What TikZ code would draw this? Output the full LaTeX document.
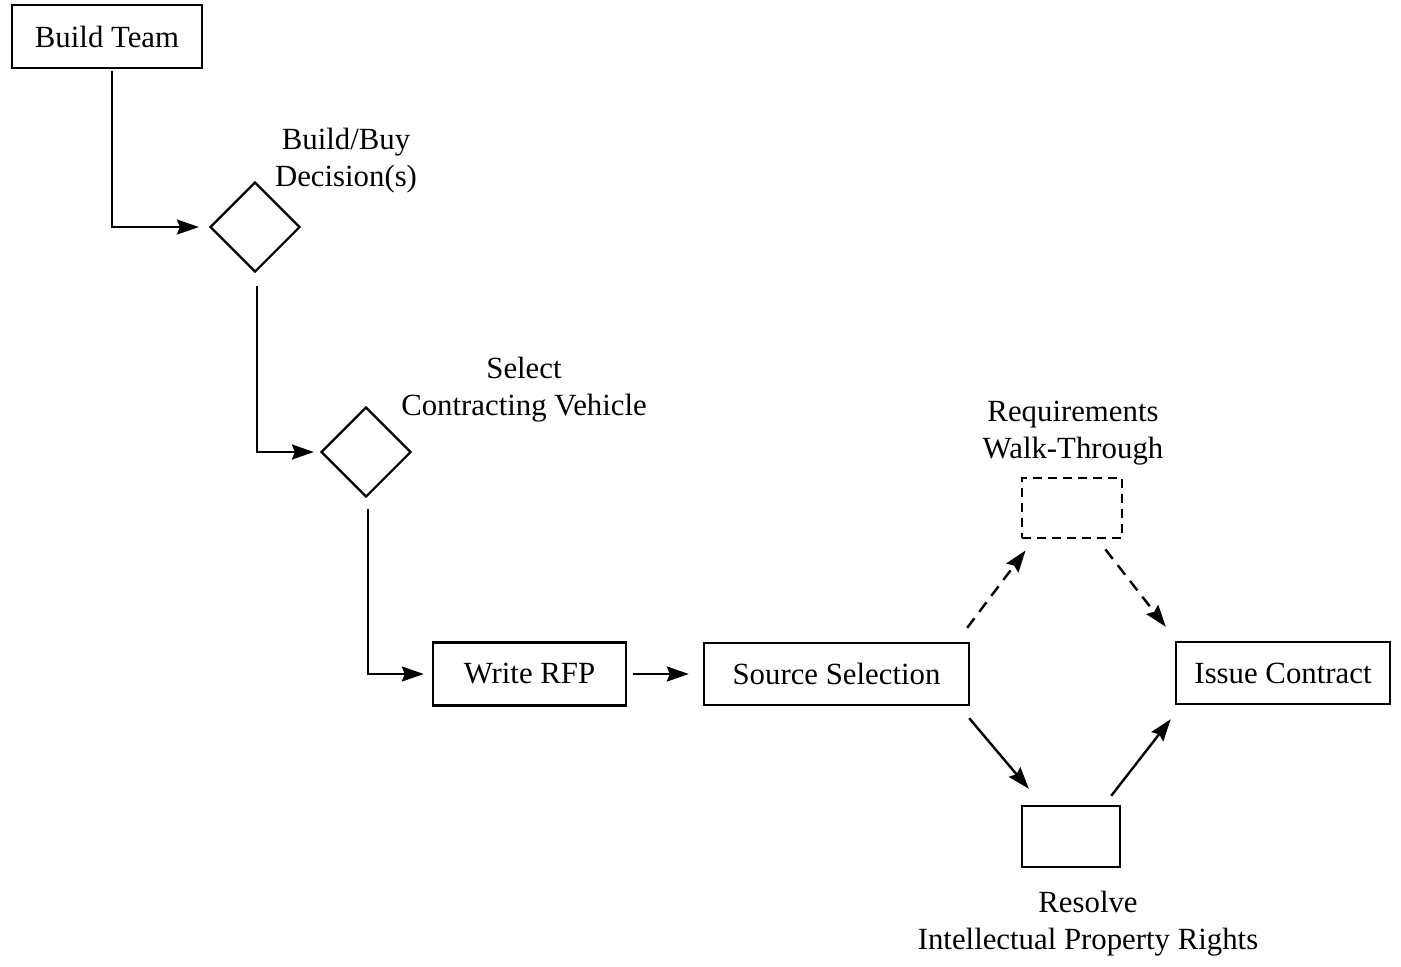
\documentclass[tikz,border=0pt]{standalone}
\usepackage{fontspec}
\setmainfont{Liberation Serif}
\usepackage{tikz}
\usetikzlibrary{arrows.meta,shapes.geometric}
\tikzset{
  >={Stealth[length=11pt,width=7.5pt,inset=1.5pt]},
  box/.style={draw,line width=1.2pt,inner sep=0pt,minimum width=#1,minimum height=31.5pt,font=\fontsize{15.4}{18.5}\selectfont,align=center},
  box/.default=95pt,
  dbox/.style={box=50pt,minimum height=30pt,line width=1.4pt,dash pattern=on 4.5pt off 3pt},
  dec/.style={draw,diamond,line width=1.1pt,inner sep=0pt,minimum size=45pt},
  lab/.style={font=\fontsize{15.4}{18.5}\selectfont,align=center},
  arr/.style={->,line width=1.2pt},
  darr/.style={->,line width=1.2pt,dash pattern=on 6pt off 4pt},
}
\begin{document}
\begin{tikzpicture}[x=0.5pt,y=-0.5pt]
\useasboundingbox (0,0) rectangle (1401,966);
% nodes
\node[box=95pt] (team) at (107,36.5) {Build Team};
\node[dec] (bb) at (255,227) {};
\node[lab] (bblab) at (346,161) {Build/Buy\\Decision(s)};
\node[dec] (cv) at (366,452) {};
\node[lab] (cvlab) at (524,390) {Select\\Contracting Vehicle};
\node[box=96.5pt] (rfp) at (529.5,674) {Write RFP};
\node[box=132.5pt,minimum height=31pt] (src) at (836.5,674) {Source Selection};
\node[dbox] (walk) at (1072,508) {};
\node[lab] (walklab) at (1073,433) {Requirements\\Walk-Through};
\node[box=107pt,minimum height=31pt] (issue) at (1283,673) {Issue Contract};
\node[box=49pt,minimum height=30.5pt] (ipr) at (1071,836.5) {};
\node[lab] (iprlab) at (1088,924) {Resolve\\Intellectual Property Rights};
% connectors
\draw[arr,shorten >=5pt] ([shift={(5,2)}]team.south) |- (bb.west);
\draw[arr,shorten >=3pt] ([shift={(2,13)}]bb.south) |- (cv.west);
\draw[arr,shorten >=4pt] ([shift={(2,11)}]cv.south) |- (rfp.west);
\draw[arr] ([xshift=3pt]rfp.east) -- ([xshift=-7pt]src.west);
\draw[darr] ([shift={(-3,-14)}]src.north east) -- ([shift={(5,11)}]walk.south west);
\draw[darr] ([shift={(-18,10)}]walk.south east) -- ([shift={(-9,-14)}]issue.north west);
\draw[arr] ([shift={(-1,12)}]src.south east) -- ([shift={(8,-16)}]ipr.north west);
\draw[arr] ([shift={(-10,-9)}]ipr.north east) -- ([shift={(-4,14)}]issue.south west);
\end{tikzpicture}
\end{document}
